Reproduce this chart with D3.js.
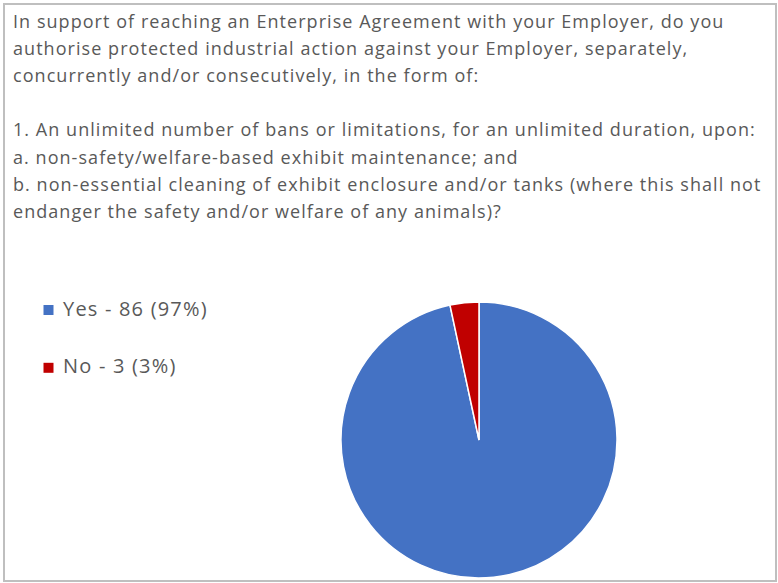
<!DOCTYPE html>
<html>
<head>
<meta charset="utf-8">
<script src="https://cdn.jsdelivr.net/npm/d3@7"></script>
<style>
  body { margin: 0; background: #fff; }
  text { font-family: "Open Sans", sans-serif; fill: #595959; }
</style>
</head>
<body>
<svg id="chart"></svg>
<script>
// chart data
const categories = ["Yes", "No"];
const counts = [86, 3];
const colors = ["#4472c4", "#c00000"];
const titleLines = [
  "In support of reaching an Enterprise Agreement with your Employer, do you",
  "authorise protected industrial action against your Employer, separately,",
  "concurrently and/or consecutively, in the form of:",
  "",
  "1. An unlimited number of bans or limitations, for an unlimited duration, upon:",
  "a. non-safety/welfare-based exhibit maintenance; and",
  "b. non-essential cleaning of exhibit enclosure and/or tanks (where this shall not",
  "endanger the safety and/or welfare of any animals)?"
];

const width = 778, height = 583;
const svg = d3.select("#chart")
              .attr("width", width)
              .attr("height", height);

// outer frame
svg.append("rect")
   .attr("x", 4).attr("y", 4)
   .attr("width", 772).attr("height", 577)
   .attr("fill", "#fff")
   .attr("stroke", "#bfbfbf")
   .attr("stroke-width", 2);

// title
const title = svg.append("g");
titleLines.forEach((line, i) => {
  title.append("text")
       .attr("x", 13)
       .attr("y", 28 + i * 27.1)
       .style("font-size", "18px")
       .style("letter-spacing", "1.05px")
       .text(line);
});

const total = d3.sum(counts);
const data = categories.map((c, i) => ({name: c, value: counts[i], color: colors[i]}));

// legend
const legend = svg.append("g");
data.forEach((d, i) => {
  const y = 315.5 + i * 57.8;
  legend.append("rect")
        .attr("x", 43.5).attr("y", y - 10.5)
        .attr("width", 10).attr("height", 10)
        .attr("fill", d.color);
  legend.append("text")
        .attr("x", 63).attr("y", y)
        .style("font-size", "20px")
        .style("letter-spacing", "1.2px")
        .text(`${d.name} - ${d.value} (${Math.round(d.value / total * 100)}%)`);
});

// pie
const pie = d3.pie().value(d => d.value).sort(null);
const arc = d3.arc().innerRadius(0).outerRadius(138);

svg.append("g")
   .attr("transform", "translate(479,440)")
   .selectAll("path")
   .data(pie(data))
   .enter()
   .append("path")
   .attr("d", arc)
   .attr("fill", d => d.data.color)
   .attr("stroke", "#fff")
   .attr("stroke-width", 1.5);
</script>
</body>
</html>
